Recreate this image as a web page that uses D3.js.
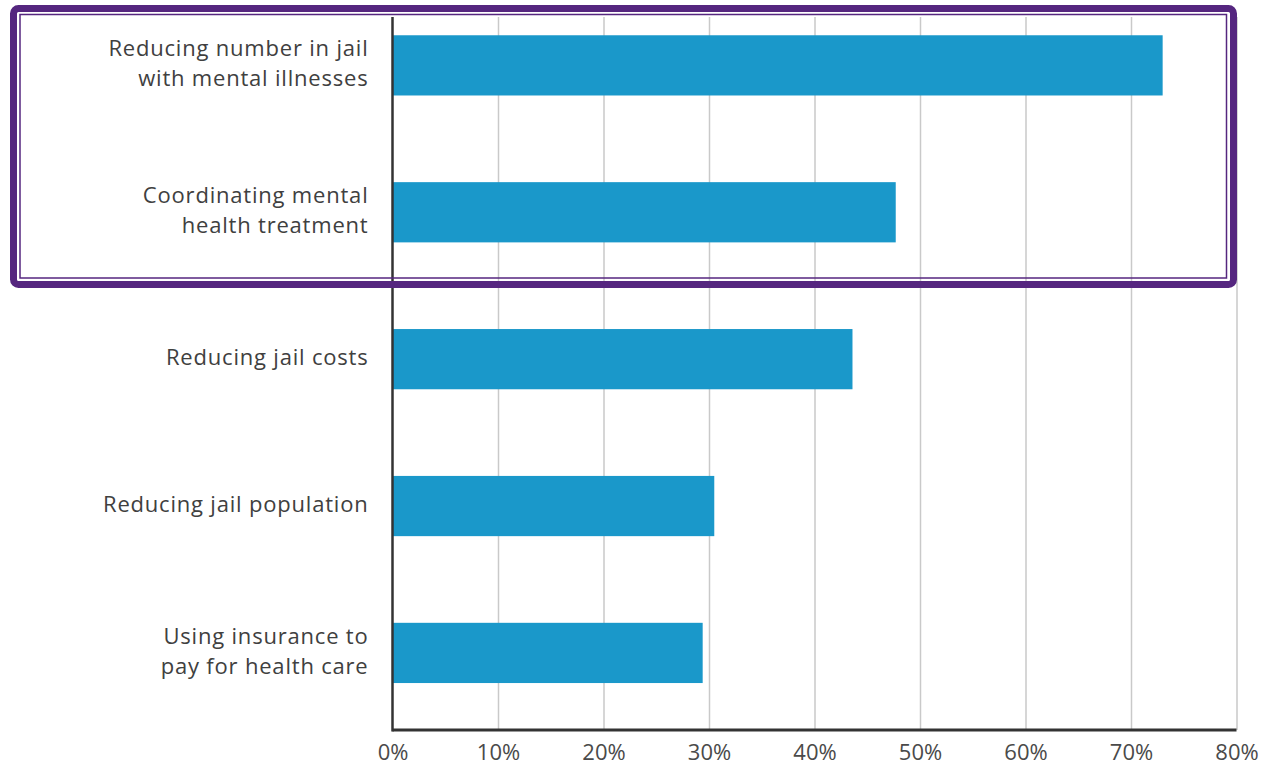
<!DOCTYPE html>
<html>
<head>
<meta charset="utf-8">
<script src="https://cdn.jsdelivr.net/npm/d3@7"></script>
<style>
  body { margin: 0; background: #fff; }
  svg { display: block; }
</style>
</head>
<body>
<div id="chart"></div>
<script>
// data
const categories = [
  "Reducing number in jail|with mental illnesses",
  "Coordinating mental|health treatment",
  "Reducing jail costs",
  "Reducing jail population",
  "Using insurance to|pay for health care"
];
const values = [73, 47.7, 43.6, 30.5, 29.4];
const tickValues = [0, 10, 20, 30, 40, 50, 60, 70, 80];

const W = 1272, H = 770;
const plotLeft = 392.5, plotRight = 1236.5, plotTop = 17, plotBottom = 730;

const svg = d3.select("#chart")
  .append("svg")
  .attr("width", W)
  .attr("height", H);

const x = d3.scaleLinear()
  .domain([0, 80])
  .range([plotLeft, plotRight]);

const y = d3.scaleBand()
  .domain(categories)
  .range([plotTop, plotBottom])
  .paddingInner(0.59)
  .paddingOuter(0.222)
  .align(0.28);

// gridlines
svg.append("g")
  .attr("transform", `translate(0,${plotBottom})`)
  .call(d3.axisBottom(x).tickValues(tickValues.slice(1)).tickSize(-(plotBottom - plotTop)).tickFormat(""))
  .call(g => g.select(".domain").remove())
  .call(g => g.selectAll(".tick line").attr("stroke", "#c9c9c9").attr("stroke-width", 1.5));

// bars
svg.selectAll("rect.bar")
  .data(values)
  .join("rect")
  .attr("class", "bar")
  .attr("x", x(0))
  .attr("y", (d, i) => y(categories[i]))
  .attr("width", d => x(d) - x(0))
  .attr("height", y.bandwidth())
  .attr("fill", "#1a98ca");

// x axis labels
const xAxis = svg.append("g")
  .attr("transform", `translate(0,${plotBottom})`)
  .call(d3.axisBottom(x).tickValues(tickValues).tickSize(0).tickPadding(14).tickFormat(d => d + "%"));
xAxis.select(".domain").remove();
xAxis.selectAll("text")
  .attr("fill", "#4a4a4a")
  .style("font-family", "'Open Sans', sans-serif")
  .style("font-size", "22px");

// axis lines
svg.append("line")
  .attr("x1", x(0)).attr("x2", x(80))
  .attr("y1", plotBottom).attr("y2", plotBottom)
  .attr("stroke", "#333").attr("stroke-width", 3);
svg.append("line")
  .attr("x1", x(0)).attr("x2", x(0))
  .attr("y1", plotTop).attr("y2", plotBottom + 1.5)
  .attr("stroke", "#333").attr("stroke-width", 2.5);

// category labels
const fs = 22, lineGap = 30;
const lab = svg.append("g")
  .selectAll("text")
  .data(categories)
  .join("text")
  .attr("text-anchor", "end")
  .attr("fill", "#404040")
  .style("font-family", "'Open Sans', sans-serif")
  .style("font-size", fs + "px")
  .style("letter-spacing", "0.8px");

lab.each(function(d) {
  const lines = d.split("|");
  const t = d3.select(this);
  const mid = y(d) + y.bandwidth() / 2 - 2;
  lines.forEach((ln, j) => {
    t.append("tspan")
      .attr("x", 368.5)
      .attr("y", mid + (j - (lines.length - 1) / 2) * lineGap + 0.35 * fs)
      .text(ln);
  });
});

// highlight box
svg.append("rect")
  .attr("x", 13.5).attr("y", 8.5)
  .attr("width", 1220).attr("height", 276)
  .attr("rx", 5)
  .attr("fill", "none")
  .attr("stroke", "#55267f")
  .attr("stroke-width", 7);
svg.append("rect")
  .attr("x", 20).attr("y", 14.5)
  .attr("width", 1206.5).attr("height", 263.5)
  .attr("fill", "none")
  .attr("stroke", "#55267f")
  .attr("stroke-width", 1.5);
</script>
</body>
</html>
